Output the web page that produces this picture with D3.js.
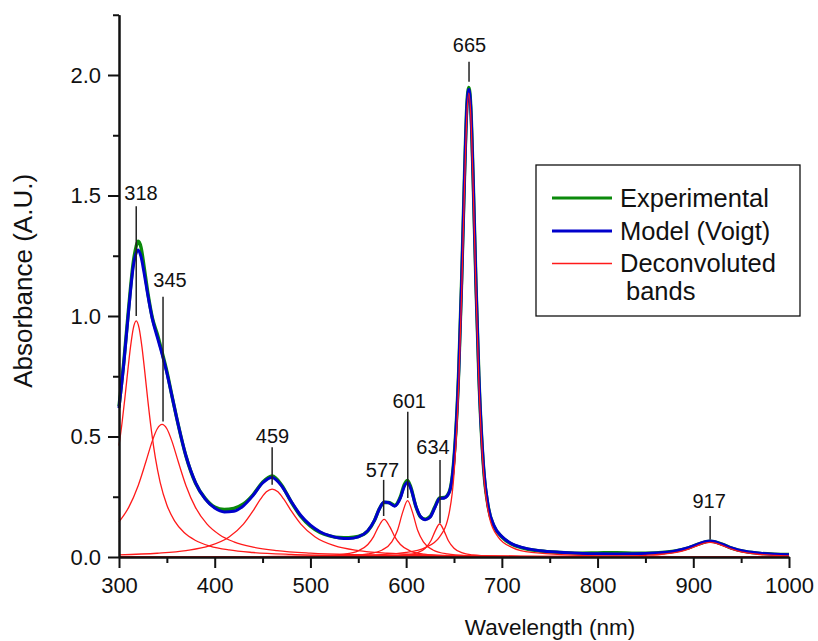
<!DOCTYPE html>
<html>
<head>
<meta charset="utf-8">
<script src="https://cdn.jsdelivr.net/npm/d3@7"></script>
<style>
  html, body { margin: 0; padding: 0; background: #fff; }
  svg { display: block; font-family: "Liberation Sans", Arial, Helvetica, sans-serif; }
</style>
</head>
<body>
<svg id="chart" width="818" height="641"></svg>
<script>
// ---- Spectrum data (wavelength in nm, absorbance in A.U.) ----
const wavelengths = [300, 305, 310, 315, 318, 320, 323, 326, 330, 335, 340, 345, 350, 355, 360, 370, 380, 390, 400, 410, 420, 430, 440, 450, 460, 470, 480, 490, 500, 510, 520, 530, 540, 550, 560, 567, 572, 577, 582, 588, 594, 598, 601.5, 605, 610, 615, 620, 625, 630, 635, 640, 645, 650, 655, 658, 661, 663.5, 665.5, 667.5, 670, 673, 676, 681, 686, 692, 700, 710, 720, 740, 760, 780, 800, 820, 840, 860, 880, 895, 905, 917.5, 930, 940, 955, 970, 985, 1000];

const experimental = [0.625, 0.81, 1.03, 1.225, 1.29, 1.31, 1.285, 1.21, 1.10, 0.99, 0.925, 0.85, 0.77, 0.675, 0.582, 0.418, 0.306, 0.243, 0.207, 0.197, 0.202, 0.22, 0.258, 0.31, 0.336, 0.298, 0.228, 0.168, 0.128, 0.102, 0.088, 0.081, 0.080, 0.085, 0.108, 0.152, 0.20, 0.226, 0.226, 0.214, 0.25, 0.30, 0.318, 0.288, 0.212, 0.166, 0.157, 0.168, 0.208, 0.245, 0.247, 0.27, 0.41, 0.78, 1.15, 1.585, 1.88, 1.948, 1.872, 1.57, 1.125, 0.75, 0.365, 0.203, 0.126, 0.083, 0.054, 0.039, 0.025, 0.019, 0.016, 0.017, 0.018, 0.016, 0.017, 0.024, 0.038, 0.053, 0.066, 0.053, 0.037, 0.022, 0.015, 0.012, 0.011];

const model = [0.618, 0.801, 1.019, 1.208, 1.262, 1.274, 1.246, 1.184, 1.089, 0.985, 0.912, 0.842, 0.764, 0.674, 0.582, 0.419, 0.308, 0.241, 0.203, 0.187, 0.190, 0.2125, 0.255, 0.307, 0.330, 0.294, 0.230, 0.172, 0.132, 0.105, 0.0888, 0.0789, 0.0763, 0.0832, 0.1095, 0.153, 0.199, 0.228, 0.225, 0.211, 0.245, 0.292, 0.309, 0.283, 0.213, 0.168, 0.155, 0.165, 0.205, 0.243, 0.245, 0.268, 0.405, 0.775, 1.144, 1.578, 1.87, 1.94, 1.865, 1.569, 1.128, 0.752, 0.368, 0.205, 0.128, 0.085, 0.0557, 0.0409, 0.0263, 0.0196, 0.0156, 0.0136, 0.0129, 0.0133, 0.0162, 0.024, 0.0385, 0.0537, 0.0663, 0.0532, 0.0375, 0.0226, 0.0152, 0.0114, 0.0093];

// Deconvoluted bands: [wavelength, absorbance]
const band318 = [[300,0.462],[303,0.551],[306,0.654],[309,0.766],[312,0.871],[315,0.950],[318,0.980],[321,0.950],[324,0.871],[327,0.766],[330,0.654],[334,0.520],[338,0.411],[343,0.310],[350,0.216],[358,0.150],[368,0.1015],[380,0.0685],[395,0.0455],[415,0.0292],[440,0.0187],[480,0.0107],[540,0.0057],[620,0.0031],[720,0.0018],[850,0.0010],[1000,0.0006]];
const band345 = [[300,0.146],[310,0.205],[320,0.296],[328,0.394],[335,0.484],[340,0.532],[345,0.550],[350,0.532],[355,0.484],[362,0.394],[370,0.296],[380,0.205],[392,0.1365],[405,0.0926],[420,0.0631],[440,0.0411],[465,0.0265],[500,0.0162],[550,0.0094],[620,0.0053],[720,0.0028],[850,0.0016],[1000,0.0009]];
const band459 = [[300,0.0090],[340,0.0156],[370,0.0265],[395,0.0468],[415,0.0827],[430,0.1362],[440,0.1911],[448,0.2408],[454,0.2704],[460,0.282],[466,0.2704],[472,0.2408],[480,0.1911],[490,0.1362],[505,0.0827],[525,0.0468],[550,0.0265],[580,0.0156],[620,0.0090],[680,0.0048],[760,0.0026],[860,0.0015],[1000,0.0008]];
const band577 = [[300,0.0003],[400,0.0007],[470,0.0019],[510,0.0049],[535,0.0118],[550,0.0257],[560,0.0519],[566,0.0848],[571,0.1248],[577,0.156],[583,0.1248],[588,0.0848],[594,0.0519],[604,0.0257],[619,0.0118],[640,0.0055],[680,0.0021],[760,0.0007],[880,0.0002],[1000,0.0001]];
const band601 = [[300,0.0003],[420,0.0007],[500,0.0022],[540,0.0060],[560,0.0128],[575,0.0292],[585,0.0629],[591,0.1113],[596.5,0.1872],[601.5,0.234],[606.5,0.1872],[612,0.1113],[618,0.0629],[628,0.0292],[643,0.0128],[665,0.0057],[700,0.0024],[780,0.0007],[880,0.0003],[1000,0.0001]];
const band634 = [[300,0.0001],[450,0.0003],[540,0.0012],[580,0.0036],[600,0.0085],[612,0.0182],[620,0.0363],[626,0.0685],[630.5,0.1096],[635,0.137],[639.5,0.1096],[644,0.0685],[650,0.0363],[658,0.0182],[670,0.0085],[690,0.0036],[730,0.0012],[820,0.0003],[1000,0.0001]];
const band665 = [[300,0.0006],[450,0.0018],[550,0.0062],[600,0.0192],[620,0.0391],[635,0.0836],[645,0.1836],[650,0.344],[655,0.725],[658,1.098],[661,1.536],[663.5,1.835],[665.5,1.925],[667.5,1.835],[670,1.536],[673,1.098],[676,0.725],[681,0.344],[686,0.1836],[696,0.0836],[711,0.0391],[731,0.0192],[800,0.0046],[880,0.0018],[1000,0.0007]];
const band917 = [[300,0.0001],[500,0.0002],[650,0.0005],[720,0.0009],[780,0.0018],[820,0.0035],[850,0.0068],[870,0.0124],[885,0.0215],[895,0.0325],[905,0.0480],[912,0.0580],[917.5,0.061],[923,0.0580],[930,0.0480],[940,0.0325],[950,0.0215],[965,0.0124],[985,0.0068],[1000,0.0048]];
const bands = [band318, band345, band459, band577, band601, band634, band665, band917];

// Peak annotations: label text, marker wavelength, marker span (A.U.), label anchor
const peakText   = ["318", "345", "459", "577", "601", "634", "665", "917"];
const peakWl     = [318, 346, 460, 576.5, 601.7, 635.4, 665.7, 917.6];
const peakLow    = [1.0, 0.562, 0.30, 0.17, 0.245, 0.14, 1.972, 0.073];
const peakHigh   = [1.455, 1.08, 0.455, 0.32, 0.603, 0.402, 2.055, 0.17];
const peakTextWl = [323, 353.3, 460.4, 575.3, 603.2, 628.1, 666.2, 916.5];
const peakTextY  = [1.481, 1.12, 0.473, 0.333, 0.617, 0.427, 2.097, 0.202];

// Axis ticks
const xTicks = [300, 400, 500, 600, 700, 800, 900, 1000];
const xMinorTicks = [350, 450, 550, 650, 750, 850, 950];
const yTicks = [0.0, 0.5, 1.0, 1.5, 2.0];
const yMinorTicks = [0.25, 0.75, 1.25, 1.75, 2.25];

const legendLabels = ["Experimental", "Model (Voigt)", "Deconvoluted", "bands"];

// ---- Layout ----
const W = 818, H = 641;
const margin = { top: 14.75, right: 29, bottom: 84, left: 119 };
const COLORS = { exp: "#0b8a0b", model: "#0000cc", band: "#ff1a1a", ink: "#111" };

const svg = d3.select("#chart");
const x = d3.scaleLinear().domain([300, 1000]).range([margin.left, W - margin.right]);
const y = d3.scaleLinear().domain([0, 2.25]).range([H - margin.bottom, margin.top]);

const line = d3.line().curve(d3.curveMonotoneX);

// Experimental and model traces
const expPts = wavelengths.map((w, i) => [x(w), y(experimental[i])]);
const modelPts = wavelengths.map((w, i) => [x(w), y(model[i])]);

svg.append("path").attr("d", line(expPts))
  .attr("fill", "none").attr("stroke", COLORS.exp).attr("stroke-width", 3.4)
  .attr("stroke-linejoin", "round");
svg.append("path").attr("d", line(modelPts))
  .attr("fill", "none").attr("stroke", COLORS.model).attr("stroke-width", 3.0)
  .attr("stroke-linejoin", "round");

// Deconvoluted bands
svg.append("g").selectAll("path").data(bands).join("path")
  .attr("d", b => line(b.map(p => [x(p[0]), y(p[1])])))
  .attr("fill", "none").attr("stroke", COLORS.band).attr("stroke-width", 1.3);

// Axes
const xAxis = d3.axisBottom(x).tickValues(xTicks).tickFormat(d3.format("d"))
  .tickSize(11).tickPadding(9).tickSizeOuter(0);
const xMinor = d3.axisBottom(x).tickValues(xMinorTicks).tickFormat("")
  .tickSize(6).tickSizeOuter(0);
const yAxis = d3.axisLeft(y).tickValues(yTicks).tickFormat(d3.format(".1f"))
  .tickSize(11).tickPadding(7).tickSizeOuter(0);
const yMinor = d3.axisLeft(y).tickValues(yMinorTicks).tickFormat("")
  .tickSize(6).tickSizeOuter(0);

function styleAxis(g) {
  g.attr("font-family", '"Liberation Sans", Arial, sans-serif').attr("font-size", 22);
  g.selectAll(".domain").attr("stroke", COLORS.ink).attr("stroke-width", 2);
  g.selectAll(".tick line").attr("stroke", COLORS.ink).attr("stroke-width", 2);
  g.selectAll(".tick text").attr("fill", COLORS.ink);
}
const xg = svg.append("g").attr("transform", `translate(0,${H - margin.bottom})`);
xg.call(xMinor).call(styleAxis);
const xg2 = svg.append("g").attr("transform", `translate(0,${H - margin.bottom})`);
xg2.call(xAxis).call(styleAxis);
const yg = svg.append("g").attr("transform", `translate(${margin.left},0)`);
yg.call(yMinor).call(styleAxis);
const yg2 = svg.append("g").attr("transform", `translate(${margin.left},0)`);
yg2.call(yAxis).call(styleAxis);

// Axis titles
svg.append("text")
  .attr("x", 550).attr("y", 635)
  .attr("text-anchor", "middle").attr("font-size", 22.5).attr("fill", COLORS.ink)
  .text("Wavelength (nm)");
svg.append("text")
  .attr("transform", `translate(32,${(margin.top + H - margin.bottom) / 2 - 5}) rotate(-90)`)
  .attr("text-anchor", "middle").attr("font-size", 26).attr("fill", COLORS.ink)
  .text("Absorbance (A.U.)");

// Peak markers and labels
const ann = svg.append("g");
peakText.forEach((t, i) => {
  ann.append("line")
    .attr("x1", x(peakWl[i])).attr("x2", x(peakWl[i]))
    .attr("y1", y(peakLow[i])).attr("y2", y(peakHigh[i]))
    .attr("stroke", "#222").attr("stroke-width", 1.5);
  ann.append("text")
    .attr("x", x(peakTextWl[i])).attr("y", y(peakTextY[i]))
    .attr("text-anchor", "middle").attr("font-size", 20).attr("fill", COLORS.ink)
    .text(t);
});

// Legend
const lg = svg.append("g");
lg.append("rect").attr("x", 536).attr("y", 165).attr("width", 264).attr("height", 151)
  .attr("fill", "#fff").attr("stroke", COLORS.ink).attr("stroke-width", 1.3);
const legendRows = [
  { color: COLORS.exp, width: 3, y: 198, label: legendLabels[0] },
  { color: COLORS.model, width: 3, y: 231, label: legendLabels[1] },
  { color: COLORS.band, width: 1.3, y: 263.5, label: legendLabels[2] }
];
legendRows.forEach(r => {
  lg.append("line").attr("x1", 552).attr("x2", 612).attr("y1", r.y).attr("y2", r.y)
    .attr("stroke", r.color).attr("stroke-width", r.width);
  lg.append("text").attr("x", 620).attr("y", r.y + 8.5)
    .attr("font-size", 25.5).attr("fill", COLORS.ink).text(r.label);
});
lg.append("text").attr("x", 626).attr("y", 300)
  .attr("font-size", 25.5).attr("fill", COLORS.ink).text(legendLabels[3]);
</script>
</body>
</html>
